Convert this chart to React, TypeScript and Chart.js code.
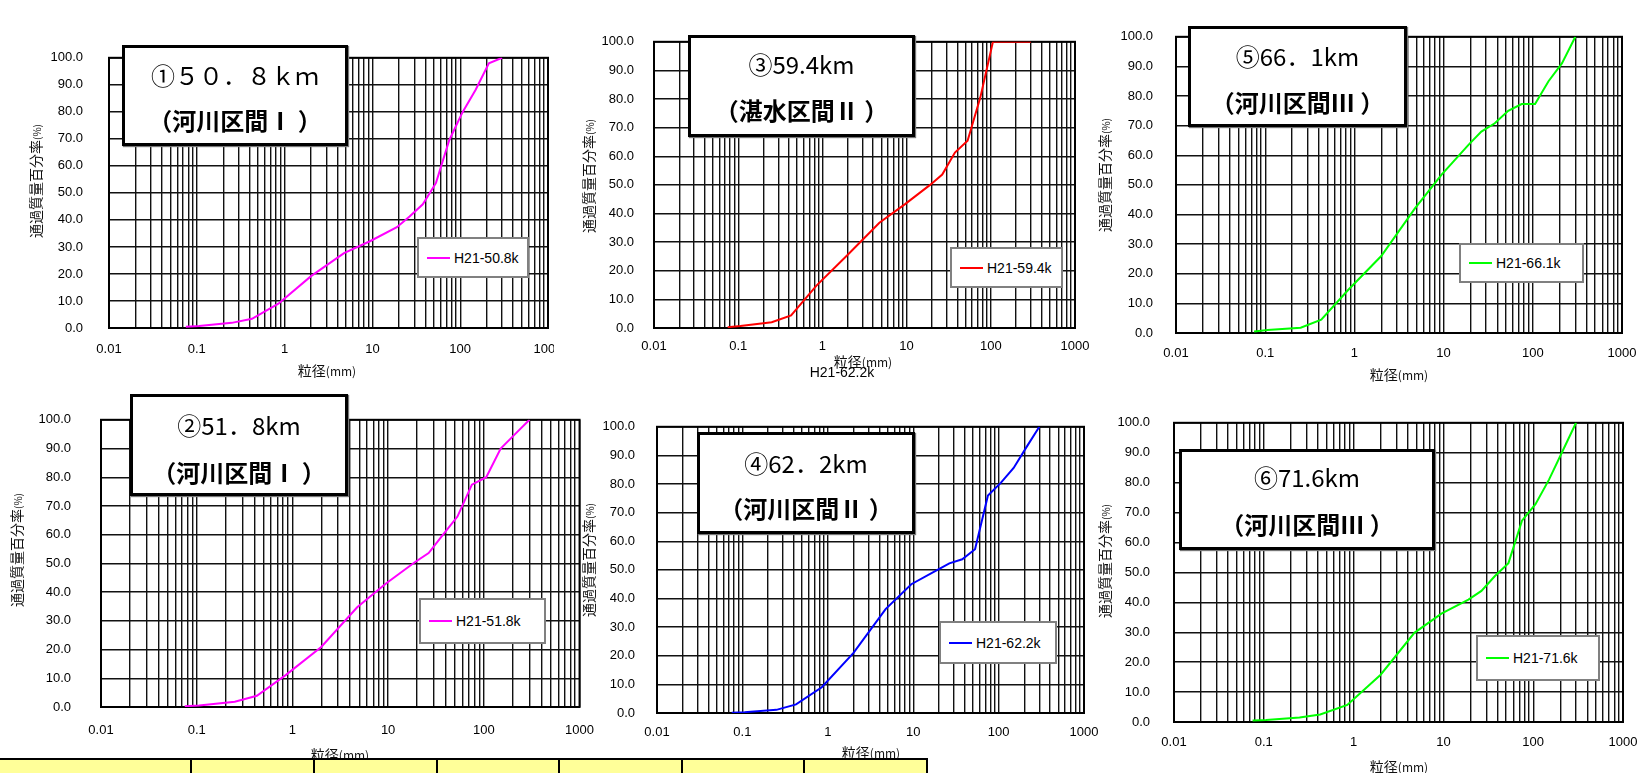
import React, { useEffect, useRef } from 'react';
import { Chart, registerables } from 'chart.js';

Chart.register(...registerables);

// ---------- data ----------
const sieveSizes = [0.075, 0.106, 0.25, 0.425, 0.85, 2, 4.75, 9.5, 19, 26.5, 37.5, 53, 75, 106, 150, 212, 300];
const pass508 = [0.5, 0.7, 1.9, 3.4, 9.0, 19.2, 27.7, 32.2, 37.3, 41.3, 45.8, 53.7, 69.5, 79.8, 88.2, 98.0, 100];
const pass518 = [0.3, 0.5, 1.8, 3.9, 11.1, 20.9, 34.7, 43.0, 50.4, 53.6, 60.0, 66.3, 77.4, 80.0, 90.0, 95.0, 100];
const pass594 = [0.3, 0.7, 2.0, 4.4, 14.8, 25.6, 36.8, 43.2, 50.0, 53.6, 61.3, 65.4, 80.5, 100, 100, 100, 100];
const pass622 = [0.1, 0.3, 1.1, 3.0, 9.0, 21.0, 36.3, 45.0, 49.9, 52.3, 53.7, 57.2, 76.0, 80.4, 85.6, 92.9, 100];
const pass661 = [0.5, 1.0, 1.8, 4.5, 14.5, 26.0, 42.0, 53.5, 63.5, 68.0, 70.8, 75.0, 77.3, 77.3, 85.0, 91.0, 100];
const pass716 = [0.5, 0.7, 1.5, 2.5, 5.7, 15.8, 29.8, 36.2, 40.9, 43.8, 48.8, 53.1, 67.3, 72.8, 81.0, 90.5, 100];

const decadeValues = [0.01, 0.1, 1, 10, 100, 1000];
const decadeLabels = ['0.01', '0.1', '1', '10', '100', '1000'];
const minorMultipliers = [1, 2, 3, 4, 5, 6, 7, 8, 9];
const yTickValues = [0, 10, 20, 30, 40, 50, 60, 70, 80, 90, 100];

const yAxisTitle = '通過質量百分率';
const xAxisTitle = '粒径';

// ---------- layout ----------
const YW = 100;
const TM = 10;
const RM = 30;
const XH = 40;

type Panel = {
  label: string;
  values: number[];
  color: string;
  plot: [number, number, number, number];
  xPad: number;
  yPad: number;
  clipRight?: number;
  box: [number, number, number, number];
  l1: number;
  l2: number;
  title1: string;
  title2: string;
  legend: [number, number, number, number];
  yTitle: [number, number];
  xTitle: [number, number];
};

const panels: Panel[] = [
  { label: 'H21-50.8k', values: pass508, color: '#FF00FF', plot: [109, 34, 548, 328], xPad: 14, yPad: 26, clipRight: 555,
    box: [122, 45, 348, 146], l1: 30, l2: 75, title1: '①５０．８ｋｍ', title2: '（河川区間Ⅰ ）',
    legend: [417, 237, 529, 278], yTitle: [36, 181], xTitle: [327, 370] },
  { label: 'H21-59.4k', values: pass594, color: '#FF0000', plot: [654, 24, 1075, 328], xPad: 11, yPad: 20,
    box: [688, 35, 915, 137], l1: 29, l2: 75, title1: '③59.4km', title2: '（湛水区間Ⅱ ）',
    legend: [950, 247, 1063, 288], yTitle: [589, 176], xTitle: [863, 361] },
  { label: 'H21-66.1k', values: pass661, color: '#00FF00', plot: [1176, 16, 1622, 333], xPad: 13, yPad: 23,
    box: [1188, 26, 1407, 127], l1: 30, l2: 76, title1: '⑤66．1km', title2: '（河川区間Ⅲ ）',
    legend: [1459, 243, 1584, 283], yTitle: [1105, 175], xTitle: [1399, 374] },
  { label: 'H21-51.8k', values: pass518, color: '#FF00FF', plot: [101, 392, 580, 707], xPad: 16, yPad: 30,
    box: [130, 394, 348, 496], l1: 31, l2: 78, title1: '②51．8km', title2: '（河川区間Ⅰ ）',
    legend: [419, 598, 546, 644], yTitle: [17, 550], xTitle: [340, 754] },
  { label: 'H21-62.2k', values: pass622, color: '#0000FF', plot: [657, 407, 1084, 713], xPad: 12, yPad: 22,
    box: [697, 432, 915, 534], l1: 31, l2: 76, title1: '④62．2km', title2: '（河川区間Ⅱ ）',
    legend: [939, 621, 1057, 664], yTitle: [589, 560], xTitle: [871, 752] },
  { label: 'H21-71.6k', values: pass716, color: '#00FF00', plot: [1174, 401, 1623, 722], xPad: 13, yPad: 24,
    box: [1179, 449, 1435, 550], l1: 28, l2: 75, title1: '⑥71.6km', title2: '（河川区間Ⅲ ）',
    legend: [1476, 635, 1600, 681], yTitle: [1105, 561], xTitle: [1399, 766] },
];

const strayText = { text: 'H21-62.2k', x: 842, y: 372 };
const tableCols = [191, 314, 437, 559, 682, 804];
const tableRight = 928;
const tableTop = 758;

const TICK_FONT = "'Liberation Sans', Arial, sans-serif";
const CJK_FONT = "'Noto Sans CJK JP', 'Noto Sans CJK SC', sans-serif";

const gridValues: number[] = [];
decadeValues.slice(0, 5).forEach((d) => minorMultipliers.forEach((m) => gridValues.push(d * m)));
gridValues.push(1000);

const borderPlugin = {
  id: 'plotBorder',
  beforeDatasetsDraw(chart: any) {
    const { ctx, chartArea } = chart;
    ctx.save();
    ctx.strokeStyle = '#000';
    ctx.lineWidth = 2;
    ctx.strokeRect(chartArea.left, chartArea.top, chartArea.right - chartArea.left, chartArea.bottom - chartArea.top);
    ctx.restore();
  },
};

function PanelChart({ p, white }: { p: Panel; white?: boolean }) {
  const ref = useRef<HTMLCanvasElement | null>(null);
  const [l, t, r, b] = p.plot;
  const W = r - l + YW + RM;
  const H = b - t + TM + XH;
  useEffect(() => {
    const canvas = ref.current!;
    const chart = new Chart(canvas, {
      type: 'line',
      data: {
        datasets: [
          {
            label: p.label,
            data: sieveSizes.map((x, i) => ({ x, y: p.values[i] })),
            borderColor: p.color,
            backgroundColor: p.color,
            borderWidth: 2,
            pointRadius: 0,
            tension: 0,
            fill: false,
          },
        ],
      },
      options: {
        responsive: false,
        animation: false,
        devicePixelRatio: 1,
        layout: { padding: { left: 0, top: TM, right: RM, bottom: 0 } },
        plugins: { legend: { display: false }, tooltip: { enabled: false } },
        scales: {
          x: {
            type: 'logarithmic',
            min: 0.01,
            max: 1000,
            afterBuildTicks: (s: any) => {
              s.ticks = gridValues.map((v) => ({ value: v }));
            },
            afterFit: (s: any) => {
              s.height = XH;
            },
            ticks: {
              autoSkip: false,
              maxRotation: 0,
              minRotation: 0,
              padding: p.xPad,
              color: '#000',
              font: { family: TICK_FONT, size: 13 },
              callback: (v: any) => {
                const i = decadeValues.findIndex((d) => Math.abs(Number(v) - d) / d < 1e-6);
                return i >= 0 ? decadeLabels[i] : '';
              },
            },
            grid: { color: '#111', lineWidth: 1.4, drawTicks: false },
            border: { display: false },
          },
          y: {
            type: 'linear',
            min: 0,
            max: 100,
            afterBuildTicks: (s: any) => {
              s.ticks = yTickValues.map((v) => ({ value: v }));
            },
            afterFit: (s: any) => {
              s.width = YW;
            },
            ticks: {
              padding: p.yPad,
              color: '#000',
              font: { family: TICK_FONT, size: 13 },
              callback: (v: any) => Number(v).toFixed(1),
            },
            grid: { color: '#111', lineWidth: 1.4, drawTicks: false },
            border: { display: false },
          },
        },
      } as any,
      plugins: [borderPlugin],
    });
    return () => chart.destroy();
  }, []);
  const left = l - YW;
  const top = t - TM;
  const clipW = p.clipRight ? p.clipRight - left : W;
  return (
    <div style={{ position: 'absolute', left, top, width: clipW, height: H, overflow: 'hidden', background: white ? '#fff' : 'transparent' }}>
      <canvas ref={ref} width={W} height={H} style={{ width: W, height: H, display: 'block' }} />
    </div>
  );
}

function Overlays({ p }: { p: Panel }) {
  const [bl, bt, br, bb] = p.box;
  const [ll, lt, lr, lb] = p.legend;
  return (
    <>
      <div
        style={{
          position: 'absolute', left: bl, top: bt, width: br - bl, height: bb - bt, boxSizing: 'border-box',
          border: '3px solid #000', background: '#fff', fontFamily: CJK_FONT, color: '#000',
          boxShadow: '1px 1px 1px #777',
        }}
      >
        <div style={{ position: 'absolute', left: 0, right: 0, top: p.l1 - 3, transform: 'translateY(-50%)', textAlign: 'center', fontSize: 24, lineHeight: '30px', fontWeight: 400, whiteSpace: 'nowrap' }}>
          {p.title1}
        </div>
        <div style={{ position: 'absolute', left: 0, right: 0, top: p.l2 - 3, transform: 'translateY(-50%)', textAlign: 'center', fontSize: 24, lineHeight: '30px', fontWeight: 700, whiteSpace: 'nowrap' }}>
          {p.title2}
        </div>
      </div>
      <div
        style={{
          position: 'absolute', left: ll, top: lt, width: lr - ll, height: lb - lt, boxSizing: 'border-box',
          border: '2px solid #808080', background: '#fff', display: 'flex', alignItems: 'center',
        }}
      >
        <div style={{ marginLeft: 8, width: 23, height: 2, background: p.color }} />
        <div style={{ marginLeft: 4, fontFamily: TICK_FONT, fontSize: 14, color: '#000', whiteSpace: 'nowrap' }}>{p.label}</div>
      </div>
      <div
        style={{
          position: 'absolute', left: p.yTitle[0], top: p.yTitle[1], transform: 'translate(-50%, -50%) rotate(-90deg)',
          fontFamily: CJK_FONT, fontSize: 14, fontWeight: 400, color: '#111', whiteSpace: 'nowrap', lineHeight: '15px',
        }}
      >
        {yAxisTitle}<span style={{ fontSize: 10 }}>(%)</span>
      </div>
      <div
        style={{
          position: 'absolute', left: p.xTitle[0], top: p.xTitle[1], transform: 'translate(-50%, -50%)',
          fontFamily: CJK_FONT, fontSize: 14, fontWeight: 400, color: '#111', whiteSpace: 'nowrap', lineHeight: '16px',
        }}
      >
        {xAxisTitle}<span style={{ fontSize: 12 }}>(mm)</span>
      </div>
    </>
  );
}

export default function App() {
  return (
    <div style={{ position: 'absolute', left: 0, top: 0, width: 1640, height: 773, overflow: 'hidden', background: '#fff' }}>
      {panels.map((p, i) => (
        <PanelChart key={'c' + i} p={p} white={i === 1} />
      ))}
      {panels.map((p, i) => (
        <Overlays key={'o' + i} p={p} />
      ))}
      <div
        style={{
          position: 'absolute', left: strayText.x, top: strayText.y, transform: 'translate(-50%, -50%)',
          fontFamily: TICK_FONT, fontSize: 14, color: '#000', whiteSpace: 'nowrap',
        }}
      >
        {strayText.text}
      </div>
      <div
        style={{
          position: 'absolute', left: -2, top: tableTop, width: tableRight + 2, height: 40, boxSizing: 'border-box',
          border: '2px solid #000', background: '#FFFF99', zIndex: 5,
        }}
      >
        {tableCols.map((c) => (
          <div key={c} style={{ position: 'absolute', left: c - 1, top: 0, width: 2, height: 40, background: '#000' }} />
        ))}
      </div>
    </div>
  );
}
